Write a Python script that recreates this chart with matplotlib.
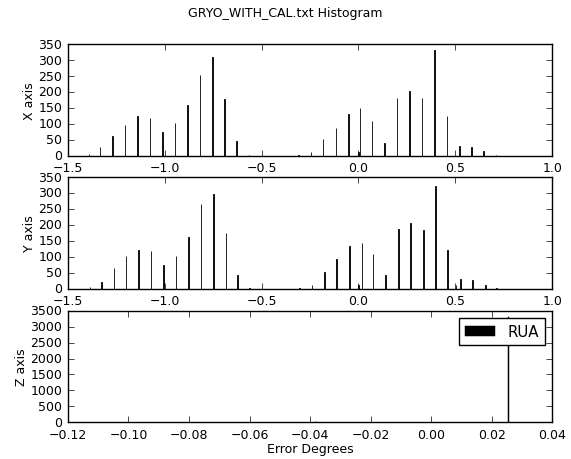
import numpy as np
import matplotlib
matplotlib.use("Agg")
import matplotlib.pyplot as plt

plt.style.use("classic")
plt.rcParams["font.family"] = ["DejaVu Sans"]
plt.rcParams["font.size"] = 9
plt.rcParams["figure.facecolor"] = "white"
plt.rcParams["savefig.facecolor"] = "white"

title = "GRYO_WITH_CAL.txt Histogram"

# X axis histogram (bin position, count)
x_pos = [-1.391, -1.335, -1.269, -1.206, -1.142, -1.076, -1.013, -0.947, -0.882,
         -0.818, -0.753, -0.691, -0.631, -0.565, -0.310, -0.246, -0.184, -0.117,
         -0.052, -0.0005, 0.008, 0.070, 0.134, 0.198, 0.263, 0.327, 0.392, 0.456,
         0.521, 0.585, 0.647, 0.709]
x_cnt = [6, 27, 63, 97, 126, 119, 75, 103, 160, 253, 311, 177, 47, 3, 2, 13, 54, 88,
         131, 13, 151, 110, 41, 182, 202, 182, 330, 126, 31, 29, 16, 2]

# Y axis histogram
y_pos = [-1.386, -1.326, -1.262, -1.200, -1.135, -1.071, -1.008, -0.942, -0.877,
         -0.813, -0.749, -0.684, -0.625, -0.564, -0.305, -0.241, -0.176, -0.112,
         -0.047, 0.001, 0.019, 0.075, 0.141, 0.206, 0.270, 0.335, 0.399, 0.461,
         0.503, 0.528, 0.590, 0.656, 0.714]
y_cnt = [5, 22, 64, 104, 121, 117, 75, 102, 162, 264, 298, 174, 43, 3, 3, 13, 54, 93,
         134, 12, 143, 108, 43, 187, 205, 183, 323, 123, 13, 32, 28, 13, 2]

# Z axis histogram
z_pos = [-0.038, 0.0256]
z_cnt = [50, 3300]

fig = plt.figure(figsize=(5.71, 4.60), dpi=100)
fig.suptitle(title, fontsize=9, y=0.985)

ax1 = fig.add_axes([0.119, 0.659, 0.848, 0.243])
ax2 = fig.add_axes([0.119, 0.370, 0.848, 0.243])
ax3 = fig.add_axes([0.119, 0.080, 0.848, 0.242])

for ax, pos, cnt, lab in [(ax1, x_pos, x_cnt, "X axis"), (ax2, y_pos, y_cnt, "Y axis")]:
    ax.bar(pos, cnt, width=0.003, color="black", edgecolor="black", linewidth=0.6, align="center")
    ax.set_xlim(-1.5, 1.0)
    ax.set_ylim(0, 350)
    ax.set_yticks(np.arange(0, 351, 50))
    ax.set_ylabel(lab, labelpad=2)

ax3.bar(z_pos, z_cnt, width=0.0001, color="black", edgecolor="black", linewidth=0.35,
        align="center", label="RUA")
ax3.set_xlim(-0.12, 0.04)
ax3.set_ylim(0, 3500)
ax3.set_yticks(np.arange(0, 3501, 500))
ax3.set_ylabel("Z axis", labelpad=2)
ax3.set_xlabel("Error Degrees", labelpad=1)
ax3.legend(loc="upper right", fontsize=10.8)

for ax in (ax1, ax2, ax3):
    ax.tick_params(direction="in", top=True, right=True, labelsize=9)

fig.savefig("out.png", dpi=100)
